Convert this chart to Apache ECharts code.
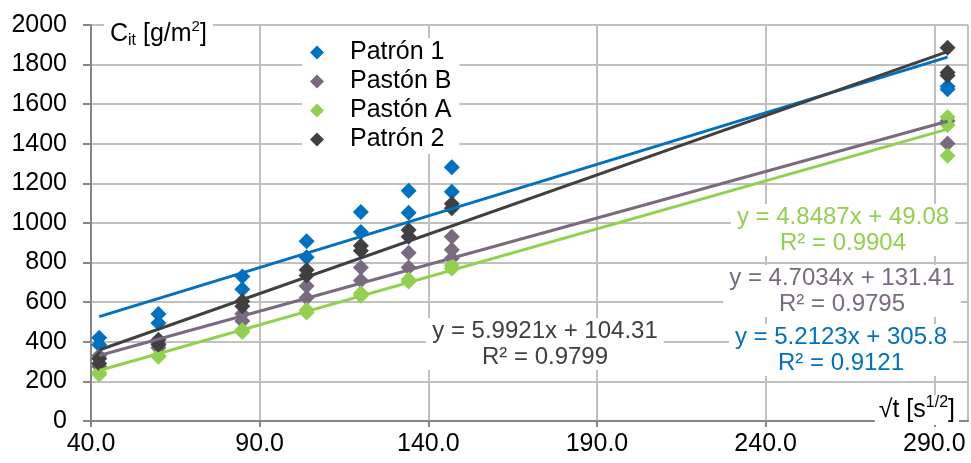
<!DOCTYPE html>
<html>
<head>
<meta charset="utf-8">
<script src="https://cdn.jsdelivr.net/npm/echarts@6/dist/echarts.min.js"></script>
<style>
    html, body { margin: 0; padding: 0; background: #fff; }
    #chart { width: 971px; height: 463px; }
</style>
</head>
<body>
<div id="chart"></div>
<script>
// √t [s^1/2] de cada ensayo
var sqrtT = [42.43, 60.0, 84.85, 103.92, 120.0, 134.16, 146.97, 293.94];

// valores leidos por ensayo (varias probetas por tiempo)
var patron1 = [[420, 385], [540, 495], [730, 665], [908, 827], [1055, 955], [1163, 1052], [1282, 1158], [1690, 1675]];
var pastonB = [[330, 275], [392, 370], [540, 505], [682, 622], [775, 710], [850, 775], [930, 865, 822], [1515, 1402]];
var pastonA = [[245, 235], [330, 325], [460, 450], [560, 548], [645, 632], [715, 705], [785, 770], [1535, 1495, 1340]];
var patron2 = [[315, 290], [410, 385], [605, 580], [762, 735], [885, 860], [965, 930], [1097, 1075], [1885, 1760, 1745]];

var seriesNames = ['Patrón 1', 'Pastón B', 'Pastón A', 'Patrón 2'];
var seriesColors = ['#0070C0', '#796A80', '#92D050', '#404040'];

// lineas de tendencia (de las etiquetas del grafico)
var trendSlope = [5.2123, 4.7034, 4.8487, 5.9921];
var trendIntercept = [305.8, 131.41, 49.08, 104.31];
var trendR2 = ['0.9121', '0.9795', '0.9904', '0.9799'];

var xTicks = { min: 40, max: 300, step: 50 };
var yTicks = { min: 0, max: 2000, step: 200 };

var chart = echarts.init(document.getElementById('chart'));

let toPoints = (vals) => {
    let pts = [];
    vals.forEach(function (group, i) {
        for (let v of group) pts.push([sqrtT[i], v]);
    });
    return pts;
};

let trendPoints = (k) => {
    let x0 = sqrtT[0], x1 = sqrtT[sqrtT.length - 1];
    return [[x0, trendSlope[k] * x0 + trendIntercept[k]], [x1, trendSlope[k] * x1 + trendIntercept[k]]];
};

var allVals = [patron1, pastonB, pastonA, patron2];
var series = [];
for (let k = 0; k < 4; k++) {
    series.push({
        name: seriesNames[k],
        type: 'scatter',
        symbol: 'diamond',
        symbolSize: 16,
        itemStyle: { color: seriesColors[k], opacity: 1 },
        data: toPoints(allVals[k]),
        z: 3
    });
}
for (let k = 0; k < 4; k++) {
    series.push({
        name: seriesNames[k] + ' tendencia',
        type: 'line',
        showSymbol: false,
        silent: true,
        lineStyle: { color: seriesColors[k], width: 3 },
        data: trendPoints(k),
        z: 4
    });
}

var FONT = '"Liberation Sans", Arial, sans-serif';

// etiquetas de ecuacion: [indice, centro x, centro y]
var eqPos = [[2, 843, 230], [1, 842, 291], [0, 841, 350], [3, 545, 344]];
var eqGraphics = eqPos.map(function (p) {
    let k = p[0];
    return {
        type: 'text',
        x: p[1], y: p[2],
        z: 20,
        style: {
            text: 'y = ' + trendSlope[k] + 'x + ' + trendIntercept[k] + '\nR² = ' + trendR2[k],
            fill: seriesColors[k],
            font: '24px ' + FONT,
            align: 'center',
            verticalAlign: 'middle',
            lineHeight: 26,
            backgroundColor: '#fff',
            padding: [0, 6]
        }
    };
});

var option = {
    animation: false,
    backgroundColor: '#fff',
    textStyle: { fontFamily: FONT },
    grid: { left: 91, right: 3, top: 25, bottom: 42 },
    legend: {
        data: seriesNames.map(function (n) { return { name: n, icon: 'diamond' }; }),
        orient: 'vertical',
        left: 302,
        top: 38,
        itemWidth: 14,
        itemHeight: 14,
        itemGap: 4,
        backgroundColor: '#fff',
        padding: [2, 8, 2, 8],
        textStyle: { fontSize: 25, color: '#000', lineHeight: 25, padding: [0, 0, 0, 21], fontFamily: FONT }
    },
    xAxis: {
        type: 'value',
        min: xTicks.min,
        max: xTicks.max,
        interval: xTicks.step,
        axisLine: { show: true, lineStyle: { color: '#868686', width: 2 } },
        axisTick: { show: true, length: 6, lineStyle: { color: '#868686', width: 2 } },
        axisLabel: {
            fontSize: 25, color: '#000', margin: 11, showMaxLabel: false,
            formatter: function (v) { return v.toFixed(1); }
        },
        splitLine: { show: true, lineStyle: { color: '#C0C0C0', width: 2 } }
    },
    yAxis: {
        type: 'value',
        min: yTicks.min,
        max: yTicks.max,
        interval: yTicks.step,
        axisLine: { show: true, lineStyle: { color: '#868686', width: 2 } },
        axisTick: { show: true, inside: false, length: 8, lineStyle: { color: '#868686', width: 2 } },
        axisLabel: {
            fontSize: 25, color: '#000', margin: 24,
            formatter: function (v) { return String(v); }
        },
        splitLine: { show: true, lineStyle: { color: '#C0C0C0', width: 2 } }
    },
    series: series,
    graphic: [
        {
            type: 'text', left: 104, top: 19, z: 20,
            style: {
                text: '{m|C}{sub|it}{m| [g/m}{sup|2}{m|]}',
                backgroundColor: '#fff',
                padding: [0, 6],
                rich: {
                    m: { font: '25px ' + FONT, fill: '#000', lineHeight: 30, verticalAlign: 'middle' },
                    sub: { font: '16px ' + FONT, fill: '#000', lineHeight: 30, verticalAlign: 'bottom' },
                    sup: { font: '15px ' + FONT, fill: '#000', lineHeight: 30, verticalAlign: 'top' }
                }
            }
        },
        {
            type: 'text', right: 12, top: 395, z: 20,
            style: {
                text: '{m|√t [s}{sup|1/2}{m|]}',
                backgroundColor: '#fff',
                padding: [0, 4],
                rich: {
                    m: { font: '25px ' + FONT, fill: '#000', lineHeight: 30, verticalAlign: 'middle' },
                    sup: { font: '16px ' + FONT, fill: '#000', lineHeight: 30, verticalAlign: 'top' }
                }
            }
        }
    ].concat(eqGraphics)
};
chart.setOption(option);
</script>
</body>
</html>
